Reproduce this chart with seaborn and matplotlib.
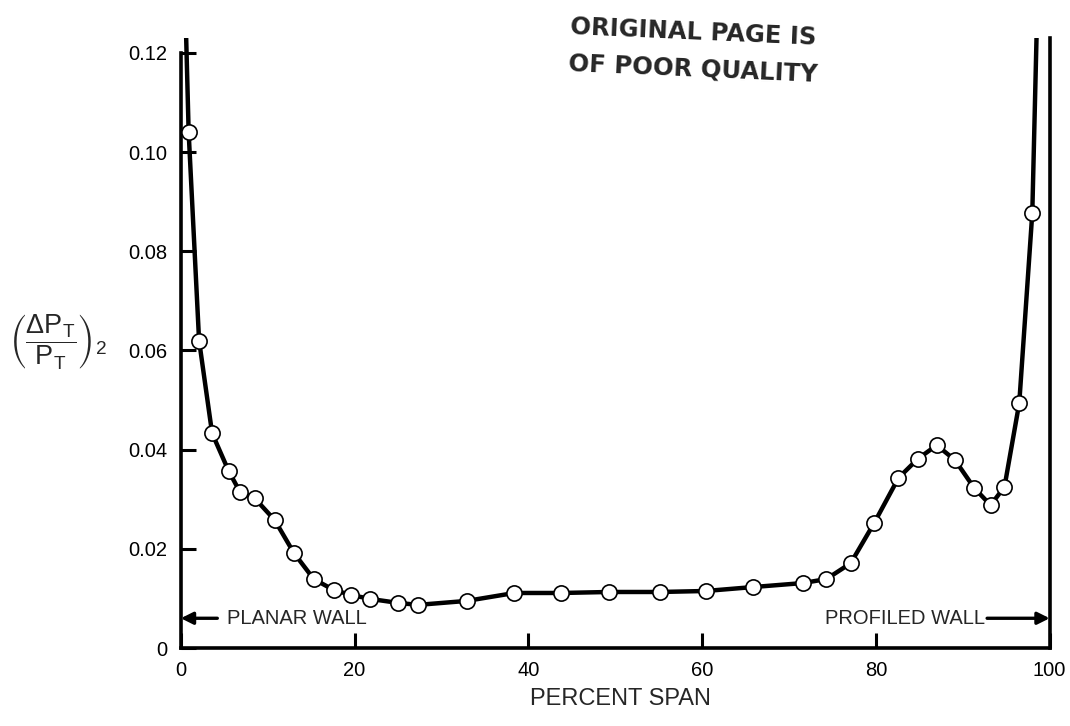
import numpy as np
import pandas as pd
import matplotlib
matplotlib.use("Agg")
import matplotlib.pyplot as plt
import seaborn as sns

# Measured total-pressure loss across the span
span_pct = [0.9, 2.1, 3.6, 5.5, 6.8, 8.5, 10.8, 13.0, 15.3, 17.6, 19.6, 21.8,
            25.0, 27.3, 32.9, 38.4, 43.8, 49.3, 55.1, 60.4, 65.9, 71.6, 74.3,
            77.1, 79.8, 82.6, 84.8, 87.0, 89.1, 91.3, 93.2, 94.8, 96.5, 98.0]
loss = [0.104, 0.062, 0.0433, 0.0357, 0.0315, 0.0302, 0.0258, 0.0192,
        0.0139, 0.0117, 0.0107, 0.0099, 0.0091, 0.0087, 0.0095, 0.0111,
        0.0111, 0.0113, 0.0113, 0.0115, 0.0123, 0.0131, 0.0139, 0.0171,
        0.0252, 0.0343, 0.0381, 0.0409, 0.0379, 0.0323, 0.0288, 0.0325,
        0.0494, 0.0877]

# Where the faired curve leaves the top of the frame near each wall
edge_span = [0.6, 98.5]
edge_loss = [0.124, 0.124]

x_ticks = [0, 20, 40, 60, 80, 100]
x_tick_labels = ["0", "20", "40", "60", "80", "100"]
y_ticks = [0, 0.02, 0.04, 0.06, 0.08, 0.10, 0.12]
y_tick_labels = ["0", "0.02", "0.04", "0.06", "0.08", "0.10", "0.12"]

sns.set_theme(style="white")
plt.rcParams["font.family"] = ["Liberation Sans", "DejaVu Sans"]
plt.rcParams["mathtext.fontset"] = "dejavusans"
plt.rcParams["mathtext.default"] = "regular"

points = pd.DataFrame({"span": span_pct, "loss": loss})
curve = pd.DataFrame({
    "span": [edge_span[0]] + span_pct + [edge_span[1]],
    "loss": [edge_loss[0]] + loss + [edge_loss[1]],
})

fig = plt.figure(figsize=(10.7, 7.26), dpi=100)
ax = fig.add_axes([0.169, 0.1074, 0.812, 0.8403])

sns.lineplot(data=curve, x="span", y="loss", ax=ax, color="black",
             linewidth=3.2, sort=True, estimator=None, zorder=2)
sns.scatterplot(data=points, x="span", y="loss", ax=ax, s=120,
                facecolor="white", edgecolor="black", linewidth=1.2, zorder=3)

ax.set_xlim(0, 100)
ax.set_ylim(0, 0.123)

for side in ["left", "bottom", "right"]:
    ax.spines[side].set_visible(True)
    ax.spines[side].set_color("black")
    ax.spines[side].set_linewidth(2.6)
ax.spines["top"].set_visible(False)
ax.spines["left"].set_bounds(0, 0.12)

ax.set_xticks(x_ticks)
ax.set_xticklabels(x_tick_labels)
ax.set_yticks(y_ticks)
ax.set_yticklabels(y_tick_labels)
ax.tick_params(axis="both", direction="in", length=11, width=2.2,
               colors="black", labelsize=14.5, pad=9)
ax.tick_params(axis="y", right=False, left=True, pad=10)
ax.tick_params(axis="x", top=False, bottom=True)
ax.set_xlabel("")
ax.set_ylabel("")

# Wall markers
ax.annotate("", xy=(0, 0.006), xytext=(4.2, 0.006),
            arrowprops=dict(arrowstyle="-|>", color="black", lw=2.4,
                            mutation_scale=18, shrinkA=0, shrinkB=0))
ax.text(5.3, 0.006, "PLANAR WALL", fontsize=14.5, va="center", ha="left")
ax.annotate("", xy=(100, 0.006), xytext=(92.8, 0.006),
            arrowprops=dict(arrowstyle="-|>", color="black", lw=2.4,
                            mutation_scale=18, shrinkA=0, shrinkB=0))
ax.text(92.5, 0.006, "PROFILED WALL", fontsize=14.5, va="center", ha="right")

fig.text(0.58, 0.037, "PERCENT SPAN", fontsize=17, ha="center", va="center")
fig.text(0.054, 0.528,
         r"$\left(\dfrac{\Delta P_T}{P_T}\right)_2$",
         fontsize=19.5, ha="center", va="center")

# Archive stamp
stamp = dict(fontsize=17.5, fontweight="bold", family="DejaVu Sans",
             ha="center", va="center", rotation=-2.5)
fig.text(0.648, 0.955, "ORIGINAL PAGE IS", **stamp)
fig.text(0.648, 0.905, "OF POOR QUALITY", **stamp)

fig.savefig("out.png", dpi=100, facecolor="white")
